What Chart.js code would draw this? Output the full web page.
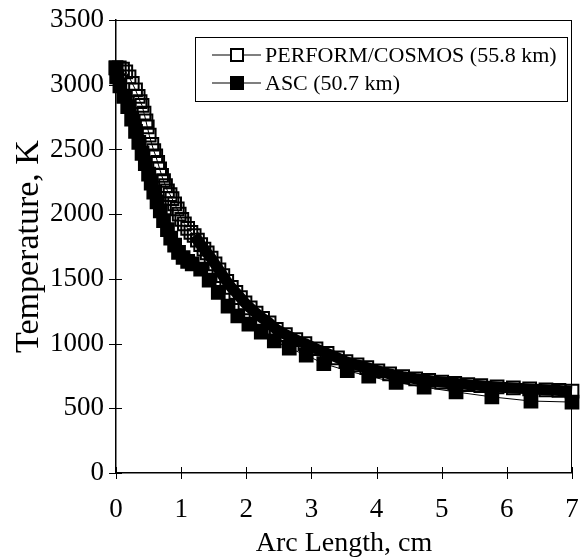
<!DOCTYPE html>
<html>
<head>
<meta charset="utf-8">
<script src="https://cdn.jsdelivr.net/npm/chart.js@4.4.1/dist/chart.umd.min.js"></script>
<style>
  html, body { margin: 0; padding: 0; background: #fff; }
  #wrap { width: 583px; height: 558px; }
</style>
</head>
<body>
<div id="wrap"><canvas id="tempChart" width="583" height="558"></canvas></div>
<script>
// series names
const seriesNames = ['PERFORM/COSMOS (55.8 km)', 'ASC (50.7 km)'];

// PERFORM/COSMOS (open squares)
const performX = [0, 0.05, 0.10, 0.15, 0.20, 0.25, 0.30, 0.34, 0.37, 0.40,
  0.43, 0.46, 0.48, 0.51, 0.55, 0.58, 0.61, 0.64, 0.67, 0.70,
  0.73, 0.76, 0.79, 0.83, 0.86, 0.90, 0.94, 0.97, 1.01, 1.05,
  1.10, 1.15, 1.20, 1.25, 1.30, 1.35, 1.40, 1.46, 1.52, 1.58,
  1.64, 1.70, 1.77, 1.84, 1.91, 1.98, 2.06, 2.15, 2.25, 2.35,
  2.46, 2.60, 2.76, 2.90, 3.07, 3.24, 3.40, 3.53, 3.70, 3.85,
  4.02, 4.20, 4.40, 4.60, 4.80, 5.00, 5.20, 5.40, 5.60, 5.85,
  6.10, 6.35, 6.60, 6.80, 7.00];
const performY = [3130, 3130, 3120, 3100, 3060, 3010, 2960, 2910, 2870, 2840,
  2780, 2720, 2675, 2610, 2540, 2490, 2450, 2400, 2350, 2300,
  2260, 2220, 2180, 2150, 2120, 2080, 2040, 2000, 1960, 1925,
  1890, 1860, 1835, 1800, 1765, 1730, 1700, 1660, 1615, 1570,
  1525, 1480, 1435, 1395, 1355, 1315, 1275, 1235, 1195, 1160,
  1110, 1070, 1030, 1000, 960, 925, 890, 860, 835, 815,
  790, 765, 745, 728, 715, 703, 693, 683, 675, 665,
  657, 650, 643, 638, 632];

// ASC (filled squares)
const ascX = [0, 0.01, 0.06, 0.12, 0.18, 0.24, 0.30, 0.35, 0.40, 0.45,
  0.50, 0.54, 0.58, 0.63, 0.68, 0.73, 0.79, 0.84, 0.90, 0.96,
  1.03, 1.10, 1.17, 1.30, 1.43, 1.57, 1.72, 1.87, 2.04, 2.23,
  2.43, 2.66, 2.92, 3.19, 3.55, 3.88, 4.30, 4.73, 5.22, 5.77,
  6.37, 7.00];
const ascY = [3130, 3060, 2990, 2910, 2830, 2735, 2640, 2555, 2470, 2390,
  2310, 2240, 2170, 2095, 2025, 1950, 1880, 1815, 1760, 1705,
  1665, 1635, 1615, 1575, 1490, 1395, 1290, 1213, 1151, 1089,
  1020, 965, 910, 845, 790, 748, 700, 663, 626, 588,
  556, 548];

// axis ticks
const xTicks = [0, 1, 2, 3, 4, 5, 6, 7];
const yTicks = [0, 500, 1000, 1500, 2000, 2500, 3000, 3500];

const serif = 'Liberation Serif';

function toPoints(xs, ys) {
  return xs.map((x, i) => ({ x: x, y: ys[i] }));
}

// tick marks crossing the axes + top/right frame
const frameTicks = {
  id: 'frameTicks',
  beforeDatasetsDraw(chart) {
    const { ctx, chartArea, scales } = chart;
    ctx.save();
    ctx.strokeStyle = '#000';
    ctx.lineWidth = 1;
    ctx.beginPath();
    scales.x.ticks.forEach(t => {
      const px = Math.round(scales.x.getPixelForValue(t.value)) + 0.5;
      ctx.moveTo(px, chartArea.bottom + 6);
      ctx.lineTo(px, chartArea.bottom - 6);
    });
    scales.y.ticks.forEach(t => {
      const py = Math.round(scales.y.getPixelForValue(t.value)) + 0.5;
      ctx.moveTo(chartArea.left - 7, py);
      ctx.lineTo(chartArea.left + 6, py);
    });
    ctx.moveTo(chartArea.left, chartArea.top + 0.5);
    ctx.lineTo(chartArea.right, chartArea.top + 0.5);
    ctx.moveTo(chartArea.right - 0.5, chartArea.top);
    ctx.lineTo(chartArea.right - 0.5, chartArea.bottom);
    ctx.stroke();
    ctx.restore();
  }
};

// legend box inside the plot
const insideLegend = {
  id: 'insideLegend',
  afterDraw(chart) {
    const { ctx, chartArea } = chart;
    const x0 = chartArea.left + 79;
    const y0 = chartArea.top + 17;
    ctx.save();
    ctx.strokeStyle = '#000';
    ctx.lineWidth = 1;
    ctx.fillStyle = '#fff';
    ctx.fillRect(x0, y0, 372, 64);
    ctx.strokeRect(x0 + 0.5, y0 + 0.5, 372, 64);
    chart.data.datasets.forEach((ds, i) => {
      const cy = y0 + 18 + i * 28;
      ctx.beginPath();
      ctx.lineWidth = 1.2;
      ctx.moveTo(x0 + 17, cy);
      ctx.lineTo(x0 + 66, cy);
      ctx.stroke();
      ctx.fillStyle = ds.filled ? '#000' : '#fff';
      ctx.fillRect(x0 + 35, cy - 7, 14, 14);
      ctx.lineWidth = 2;
      ctx.strokeRect(x0 + 36, cy - 6, 12, 12);
      ctx.fillStyle = '#000';
      ctx.font = '22px "' + serif + '"';
      ctx.textBaseline = 'middle';
      ctx.fillText(ds.label, x0 + 70, cy + 1);
    });
    ctx.restore();
  }
};

new Chart(document.getElementById('tempChart'), {
  type: 'line',
  data: {
    datasets: [
      {
        label: seriesNames[0],
        data: toPoints(performX, performY),
        filled: false,
        borderColor: '#000',
        borderWidth: 1,
        // the open squares sit so close together below ~1850 K that they merge into a solid band
        segment: { borderWidth: (c) => (c.p0.parsed.y > 1850 ? 1 : 11) },
        borderJoinStyle: 'round',
        pointStyle: 'rect',
        pointRadius: 9,
        pointBorderWidth: 2,
        pointBorderColor: '#000',
        pointBackgroundColor: 'rgba(255,255,255,0)',
        clip: false,
        order: 1
      },
      {
        label: seriesNames[1],
        data: toPoints(ascX, ascY),
        filled: true,
        borderColor: '#000',
        borderWidth: 1,
        pointStyle: 'rect',
        pointRadius: 9,
        pointBorderWidth: 2,
        pointBorderColor: '#000',
        pointBackgroundColor: '#000',
        clip: false,
        order: 0
      }
    ]
  },
  options: {
    responsive: false,
    animation: false,
    devicePixelRatio: 1,
    layout: { padding: { top: 20, right: 11, left: 0, bottom: 0 } },
    plugins: {
      legend: { display: false },
      tooltip: { enabled: false }
    },
    scales: {
      x: {
        type: 'linear',
        min: 0,
        max: 7,
        afterBuildTicks: (scale) => { scale.ticks = xTicks.map(v => ({ value: v })); },
        afterFit: (scale) => { scale.height = 85; },
        grid: { drawOnChartArea: false, drawTicks: true, tickLength: 17, tickColor: 'rgba(0,0,0,0)' },
        border: { display: true, color: '#000', width: 1.5 },
        ticks: { color: '#000', padding: 4, font: { family: serif, size: 27 }, callback: (v) => String(v) },
        title: { display: true, text: 'Arc Length, cm', color: '#000', padding: 0, font: { family: serif, size: 28, lineHeight: 1 } }
      },
      y: {
        type: 'linear',
        min: 0,
        max: 3500,
        afterBuildTicks: (scale) => { scale.ticks = yTicks.map(v => ({ value: v })); },
        afterFit: (scale) => { scale.width = 116; },
        grid: { drawOnChartArea: false, drawTicks: true, tickLength: 9, tickColor: 'rgba(0,0,0,0)' },
        border: { display: true, color: '#000', width: 1.5 },
        ticks: { color: '#000', padding: 3, font: { family: serif, size: 27 }, callback: (v) => String(v) },
        title: { display: true, text: 'Temperature, K', color: '#000', padding: { top: 12, bottom: 0 }, font: { family: serif, size: 34, lineHeight: 1 } }
      }
    }
  },
  plugins: [frameTicks, insideLegend]
});
</script>
</body>
</html>
